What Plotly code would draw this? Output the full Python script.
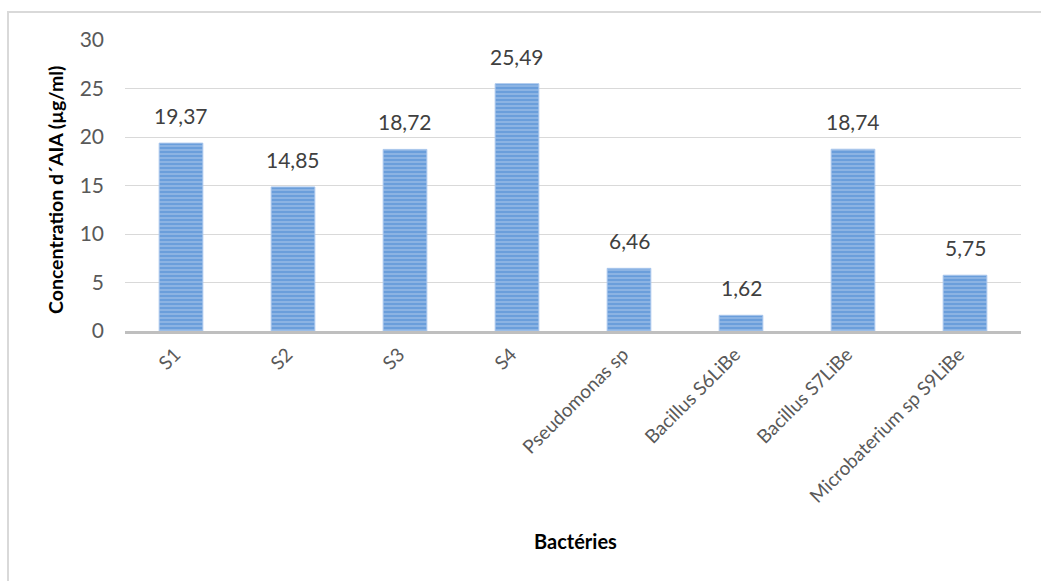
import plotly.graph_objects as go

# Bacterial strains and their IAA concentration (µg/ml)
categories = ["S1", "S2", "S3", "S4", "Pseudomonas sp", "Bacillus S6LiBe",
              "Bacillus S7LiBe", "Microbaterium sp S9LiBe"]
values = [19.37, 14.85, 18.72, 25.49, 6.46, 1.62, 18.74, 5.75]
y_ticks = [0, 5, 10, 15, 20, 25, 30]

W, H = 1041, 581
L, R, T, B = 125, 20, 40, 250
pw, ph = W - L - R, H - T - B

FONT = "Lato, Calibri, Carlito, sans-serif"

fig = go.Figure()
fig.add_trace(go.Bar(
    x=categories,
    y=values,
    marker=dict(
        color="#6a9edb",
        line=dict(color="#a9c6ec", width=1),
        pattern=dict(shape="-", fgcolor="#bcd3f1", size=4, solidity=0.4),
    ),
    width=0.39,
    hoverinfo="skip",
))

# value labels above each bar, written with a decimal comma
for c, v in zip(categories, values):
    fig.add_annotation(
        x=c, y=v, text=f"{v:.2f}".replace(".", ","),
        showarrow=False, yanchor="bottom", yshift=13,
        font=dict(family=FONT, size=21, color="#404040"),
    )

# axis titles
fig.add_annotation(
    x=(575 - L) / pw, y=(H - B - 541) / ph, xref="paper", yref="paper",
    xanchor="center", yanchor="middle",
    text="<b>Bactéries</b>", showarrow=False,
    font=dict(family=FONT, size=20, color="#000000"),
)
fig.add_annotation(
    x=(56 - L) / pw, y=(H - B - 190) / ph, xref="paper", yref="paper",
    xanchor="center", yanchor="middle",
    text="<b>Concentration d´AIA (µg/ml)</b>", showarrow=False, textangle=-90,
    font=dict(family=FONT, size=19.5, color="#000000"),
)

# light chart-area frame
fig.add_shape(
    type="rect", xref="paper", yref="paper",
    x0=(8 - L) / pw, x1=(W + 10 - L) / pw,
    y0=(H - B - (H + 10)) / ph, y1=(H - B - 12) / ph,
    line=dict(color="#d9d9d9", width=2), layer="below",
)

fig.update_layout(
    width=W, height=H,
    margin=dict(l=L, r=R, t=T, b=B, pad=0),
    paper_bgcolor="white", plot_bgcolor="white",
    showlegend=False,
    font=dict(family=FONT, color="#595959"),
    xaxis=dict(
        tickangle=-45, tickfont=dict(size=19, color="#595959"),
        showgrid=False, showline=True, linecolor="#bfbfbf", linewidth=3,
        ticks="", zeroline=False, ticklabelshift=-6, ticklabelstandoff=2,
    ),
    yaxis=dict(
        range=[0, 30], tickvals=y_ticks,
        tickfont=dict(size=21, color="#595959"),
        showgrid=True, gridcolor="#d9d9d9", gridwidth=1,
        zeroline=False, showline=False, ticks="",
        ticklabelstandoff=20,
    ),
)

fig.write_html("out.html")
